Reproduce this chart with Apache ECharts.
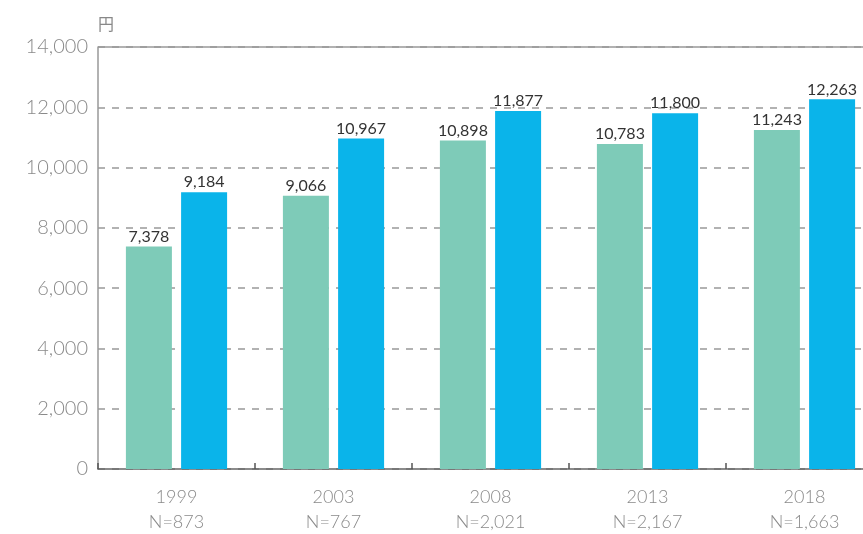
<!DOCTYPE html>
<html>
<head>
<meta charset="utf-8">
<script src="https://cdn.jsdelivr.net/npm/echarts@6/dist/echarts.min.js"></script>
<style>
html, body { margin: 0; padding: 0; background: #fff; overflow: hidden; }
#chart { width: 863px; height: 534px; }
</style>
</head>
<body>
<div id="chart"></div>
<script>
const years = ['1999', '2003', '2008', '2013', '2018'];
const sampleSizes = ['N=873', 'N=767', 'N=2,021', 'N=2,167', 'N=1,663'];
const seriesA = [7378, 9066, 10898, 10783, 11243];
const seriesB = [9184, 10967, 11877, 11800, 12263];
const yTicks = [0, 2000, 4000, 6000, 8000, 10000, 12000, 14000];

const chart = echarts.init(document.getElementById('chart'));
const font = 'Lato, "Noto Sans CJK JP", sans-serif';
const fmt = v => v.toLocaleString('en-US');

const barLabel = {
	show: true, position: 'top', distance: 2, color: '#333',
	fontSize: 16, fontFamily: font, formatter: p => fmt(p.value)
};

const option = {
	animation: false,
	// the reference is cropped on the right, so the plot runs past the canvas
	grid: { left: 98, width: 785, top: 47, bottom: 65, outerBoundsMode: 'none', containLabel: false },
	xAxis: {
		type: 'category',
		data: years.map((y, i) => y + '\n' + sampleSizes[i]),
		axisLine: { lineStyle: { color: '#666', width: 1.5 } },
		axisTick: { show: true, inside: true, length: 6, lineStyle: { color: '#555', width: 1.5 } },
		axisLabel: { color: '#8a8a8a', fontSize: 18, fontWeight: 300, fontFamily: font, lineHeight: 25, margin: 16 }
	},
	yAxis: {
		type: 'value',
		name: '円',
		nameGap: 14,
		nameTextStyle: { color: '#888', fontSize: 16, fontFamily: font, align: 'left' },
		min: yTicks[0],
		max: yTicks[yTicks.length - 1],
		interval: 2000,
		axisLine: { show: true, lineStyle: { color: '#999', width: 1.5 } },
		axisTick: { show: false },
		axisLabel: { color: '#8a8a8a', fontSize: 20, fontWeight: 300, fontFamily: font, margin: 10, formatter: v => fmt(v) },
		splitLine: { lineStyle: { color: '#999', type: [7, 7], width: 1.5 } }
	},
	series: [
		{
			type: 'bar',
			data: seriesA,
			barWidth: 46,
			barGap: '20%',
			itemStyle: { color: '#7ecbb8' },
			label: barLabel,
			// solid top border line at the axis max
			markLine: {
				silent: true,
				symbol: 'none',
				label: { show: false },
				lineStyle: { color: '#999', type: 'solid', width: 1.5 },
				data: [{ yAxis: yTicks[yTicks.length - 1] }]
			}
		},
		{
			type: 'bar',
			data: seriesB,
			barWidth: 46,
			barGap: '20%',
			itemStyle: { color: '#0ab4ea' },
			label: barLabel
		}
	]
};
chart.setOption(option);
</script>
</body>
</html>
